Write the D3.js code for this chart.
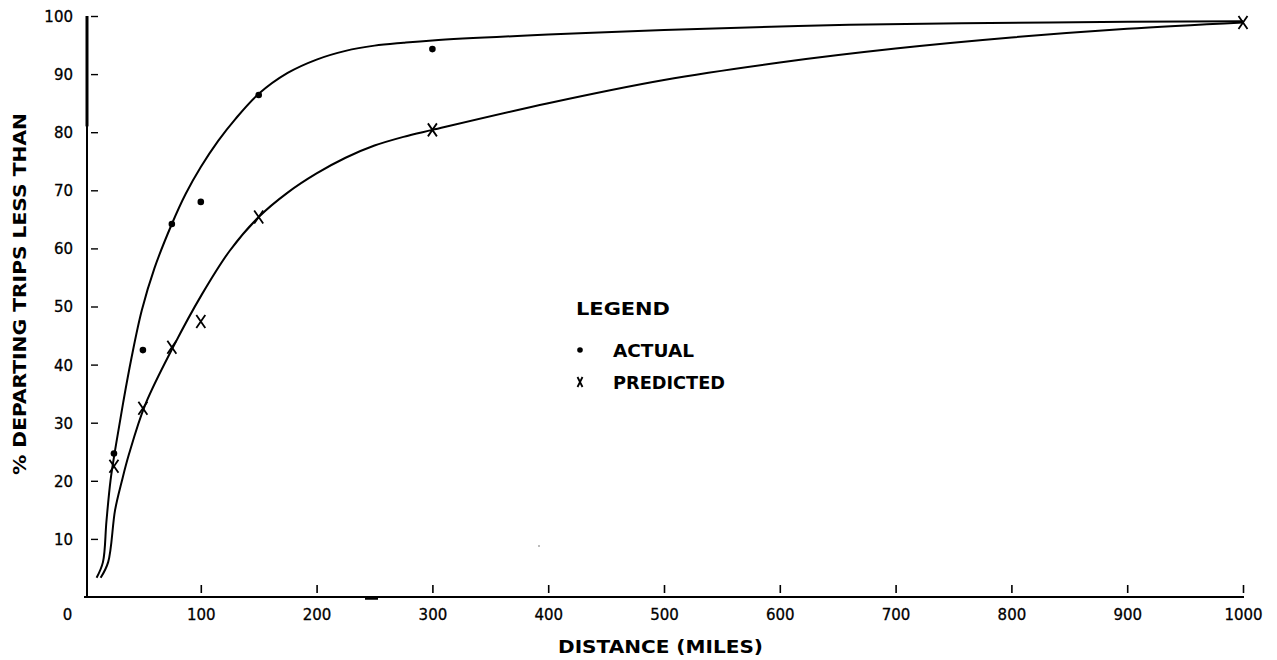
<!DOCTYPE html>
<html>
<head>
<meta charset="utf-8">
<script src="https://cdn.jsdelivr.net/npm/d3@7"></script>
<style>
  body { margin: 0; background: #fff; }
  text { font-family: "DejaVu Sans", sans-serif; fill: #000; }
</style>
</head>
<body>
<svg id="chart" width="1277" height="660"></svg>
<script>
// tick values
var xTicks = [0, 100, 200, 300, 400, 500, 600, 700, 800, 900, 1000];
var yTicks = [10, 20, 30, 40, 50, 60, 70, 80, 90, 100];

// observed points  [miles, percent]
var actualPts    = [[25, 24.7], [50, 42.5], [75, 64.2], [100, 68], [150, 86.4], [300, 94.3]];
var predictedPts = [[25, 22.5], [50, 32.5], [75, 43], [100, 47.4], [150, 65.4], [300, 80.4], [1000, 98.9]];

// hand drawn fitted curves
var actualCurve = [[10, 3.3], [15.5, 6], [18.5, 13], [22, 20], [27, 26.5], [33, 33.5], [40, 41],
  [49, 49.3], [60, 56.6], [75, 64.2], [87, 69.4], [100, 74], [115, 78.5], [130, 82.3],
  [150, 86.6], [175, 90.2], [200, 92.5], [225, 94], [250, 94.9], [275, 95.4], [300, 95.8],
  [400, 96.8], [500, 97.6], [660, 98.5], [833, 98.9], [1000, 99.1]];
var predictedCurve = [[13.5, 3.3], [20, 6], [26, 15], [32, 20.1], [38, 24.6], [51.8, 33],
  [76.3, 43.1], [100.7, 52], [125, 59.6], [150, 65.4], [175, 69.6], [200, 72.9], [225, 75.6],
  [250, 77.7], [275, 79.2], [300, 80.4], [400, 85], [500, 89], [600, 92], [700, 94.4],
  [800, 96.3], [900, 97.8], [1000, 98.9]];

var legendLabels = ["ACTUAL", "PREDICTED"];

var svg = d3.select("#chart");

var x = d3.scaleLinear().domain([0, 1000]).range([85, 1243]);
var y = d3.scaleLinear().domain([0, 100]).range([597, 16]);

////////////////////////////////////////
// axes

var gx = svg.append("g")
	.attr("transform", "translate(0," + y(0) + ")")
	.call(d3.axisBottom(x).tickValues(xTicks).tickSize(-12).tickSizeOuter(0).tickPadding(12)
		.tickFormat(d3.format("d")));
gx.select(".domain").attr("stroke-width", 2.2).attr("d", "M84,0H1244");
gx.selectAll(".tick line").attr("y1", -4).attr("stroke-width", 1.6);
gx.selectAll(".tick text").attr("font-size", 15).attr("font-family", "DejaVu Sans")
	.attr("stroke", "#000").attr("stroke-width", 0.3);
// origin label sits left of the corner, no tick there
gx.selectAll(".tick").filter(function(d) { return d === 0; })
	.each(function() {
		d3.select(this).select("line").remove();
		d3.select(this).select("text").attr("x", -18);
	});

var gy = svg.append("g")
	.attr("transform", "translate(87,0)")
	.call(d3.axisLeft(y).tickValues(yTicks).tickSize(-11).tickSizeOuter(0).tickPadding(14));
gy.select(".domain").attr("stroke-width", 2).attr("d", "M0," + y(0) + "V" + y(100));
gy.selectAll(".tick line").attr("x1", 4).attr("stroke-width", 1.4);
gy.selectAll(".tick text").attr("font-size", 15).attr("font-family", "DejaVu Sans")
	.attr("stroke", "#000").attr("stroke-width", 0.3)
	.attr("dy", "0.36em");

// heavier ink on the top of the y axis and a smudge on the x axis
svg.append("line").attr("x1", 87).attr("x2", 87).attr("y1", y(100)).attr("y2", y(81))
	.attr("stroke", "#000").attr("stroke-width", 3);
svg.append("line").attr("x1", 365).attr("x2", 378).attr("y1", y(0) + 1.5).attr("y2", y(0) + 1.5)
	.attr("stroke", "#000").attr("stroke-width", 2.5);
svg.append("circle").attr("cx", 539).attr("cy", 546).attr("r", 0.8).attr("fill", "#666");

////////////////////////////////////////
// titles

svg.append("text")
	.attr("x", 558).attr("y", 653)
	.attr("font-size", 17).attr("font-weight", "bold")
	.attr("textLength", 205).attr("lengthAdjust", "spacingAndGlyphs")
	.text("DISTANCE  (MILES)");

svg.append("text")
	.attr("transform", "translate(26,475) rotate(-90)")
	.attr("font-size", 18).attr("font-weight", "bold")
	.attr("textLength", 362).attr("lengthAdjust", "spacingAndGlyphs")
	.text("% DEPARTING TRIPS LESS THAN");

////////////////////////////////////////
// curves

var line = d3.line()
	.x(function(d) { return x(d[0]); })
	.y(function(d) { return y(d[1]); })
	.curve(d3.curveCatmullRom.alpha(0.5));

[actualCurve, predictedCurve].forEach(function(c) {
	svg.append("path").datum(c)
		.attr("d", line)
		.attr("fill", "none")
		.attr("stroke", "#000")
		.attr("stroke-width", 2);
});

////////////////////////////////////////
// markers

function drawCross(g, cx, cy, w, h) {
	g.append("path")
		.attr("d", "M" + (cx - w / 2) + "," + (cy - h / 2) + "L" + (cx + w / 2) + "," + (cy + h / 2) +
			"M" + (cx + w / 2) + "," + (cy - h / 2) + "L" + (cx - w / 2) + "," + (cy + h / 2))
		.attr("stroke", "#000").attr("stroke-width", 1.8).attr("fill", "none");
}

svg.selectAll(".actual").data(actualPts).enter().append("circle")
	.attr("class", "actual")
	.attr("cx", function(d) { return x(d[0]); })
	.attr("cy", function(d) { return y(d[1]); })
	.attr("r", 3.3)
	.attr("fill", "#000");

var gp = svg.append("g");
predictedPts.forEach(function(d) {
	drawCross(gp, x(d[0]), y(d[1]), 9, 13);
});

////////////////////////////////////////
// legend

svg.append("text").attr("x", 576).attr("y", 315)
	.attr("font-size", 17).attr("font-weight", "bold")
	.attr("textLength", 94).attr("lengthAdjust", "spacingAndGlyphs")
	.text("LEGEND");

var legendWidths = [81, 112];
legendLabels.forEach(function(lbl, i) {
	var ly = 350 + i * 32;
	if (i === 0) {
		svg.append("circle").attr("cx", 580).attr("cy", ly).attr("r", 2.8).attr("fill", "#000");
	} else {
		drawCross(svg, 580, ly, 5, 10);
	}
	svg.append("text").attr("x", 613).attr("y", ly + 7)
		.attr("font-size", 17).attr("font-weight", "bold")
		.attr("textLength", legendWidths[i]).attr("lengthAdjust", "spacingAndGlyphs")
		.text(lbl);
});
</script>
</body>
</html>
